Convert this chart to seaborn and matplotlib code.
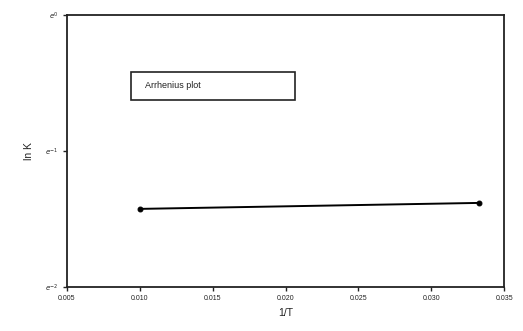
import numpy as np
import pandas as pd
import matplotlib
matplotlib.use("Agg")
import matplotlib.pyplot as plt
import matplotlib.ticker as mticker
import matplotlib.patches as mpatches
import seaborn as sns

inv_T = [0.0100, 0.0333]
lnK_vals = [-1.426, -1.382]
x_ticks = [0.005, 0.010, 0.015, 0.020, 0.025, 0.030, 0.035]
y_exponents = [-2, -1, 0]

df = pd.DataFrame({"inv_T": inv_T, "K": np.exp(lnK_vals)})

sns.set_theme(style="white")
plt.rcParams['font.family'] = ['Liberation Sans', 'DejaVu Sans']

fig = plt.figure(figsize=(5.23, 3.31), dpi=100)
ax = fig.add_axes([0.128, 0.133, 0.836, 0.822])

sns.lineplot(data=df, x="inv_T", y="K", ax=ax, color="black", linewidth=1.4,
             marker="o", markersize=3.5, markeredgecolor="black")

ax.set_yscale("log", base=np.e)
ax.set_ylim(np.exp(-2), np.exp(0))
ax.yaxis.set_major_locator(mticker.FixedLocator([np.exp(e) for e in y_exponents]))
ax.yaxis.set_major_formatter(mticker.FixedFormatter([f"$e^{{{e}}}$" for e in y_exponents]))
ax.yaxis.set_minor_locator(mticker.NullLocator())

ax.set_xlim(0.005, 0.035)
ax.set_xticks(x_ticks)
ax.set_xticklabels([f"{v:.3f}" for v in x_ticks])

for s in ax.spines.values():
    s.set_color("#222222")
    s.set_linewidth(1.3)

ax.tick_params(axis="both", which="major", direction="out", length=3, width=1,
               color="#222222", labelsize=5, pad=3, bottom=True, left=True,
               labelcolor="#222222")

ax.set_xlabel("1/T", fontsize=7.5, labelpad=4, color="#222222")
ax.set_ylabel("ln K", fontsize=7.5, labelpad=8, color="#222222")

rect = mpatches.Rectangle((0.146, 0.6875), 0.376, 0.1025, transform=ax.transAxes,
                          facecolor="white", edgecolor="#222222", linewidth=1.2, zorder=3)
ax.add_patch(rect)
ax.text(0.178, 0.739, "Arrhenius plot", transform=ax.transAxes, fontsize=6.5,
        ha="left", va="center", color="#222222", zorder=4)

fig.savefig("out.png", dpi=100)
